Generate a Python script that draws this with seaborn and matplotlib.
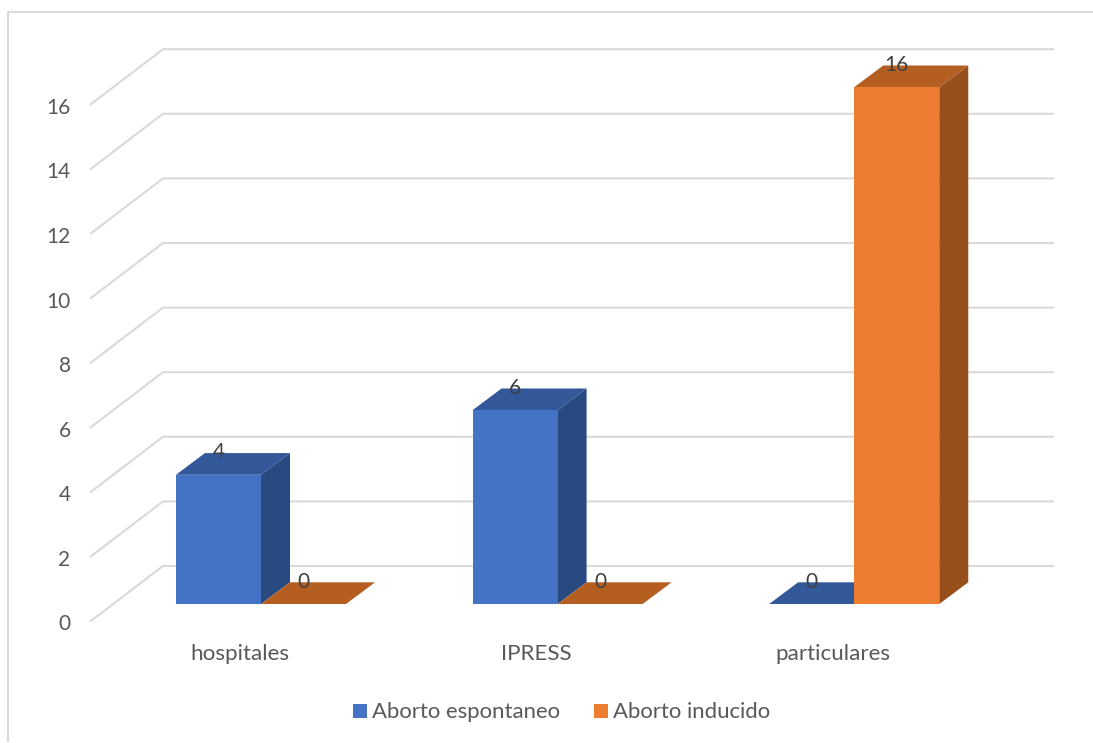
import matplotlib
matplotlib.use("Agg")
import matplotlib.pyplot as plt
import pandas as pd
import seaborn as sns
from matplotlib.lines import Line2D
from matplotlib.patches import Patch, Polygon
from matplotlib.transforms import ScaledTranslation

# Counts per facility type and abortion type
categories = ["hospitales", "IPRESS", "particulares"]
series_names = ["Aborto espontaneo", "Aborto inducido"]
espontaneo = [4, 6, 0]
inducido = [0, 0, 16]
y_ticks = [0, 2, 4, 6, 8, 10, 12, 14, 16]

front_colors = ["#4472C4", "#ED7D31"]
side_colors = ["#294A80", "#974F1B"]
top_colors = ["#335899", "#B55E22"]
GRID = "#D9D9D9"
TEXT = "#595959"
LABEL = "#404040"

W, H, DPI = 1093, 743, 100
# Pixel layout of the plotting plane
AX_LEFT, AX_RIGHT, AX_BASE, AX_TOP = 90, 1054, 604, 30
CAT0, CAT_STEP, PX_PER_UNIT = 261.0, 296.6, 32.3

sns.set_theme(style="white")
plt.rcParams["font.family"] = ["Lato", "DejaVu Sans"]
FS = 16.1
FS_LEGEND = 15.9
FS_NUM = 15.0

df = pd.DataFrame({
    "categoria": categories * 2,
    "tipo": [series_names[0]] * 3 + [series_names[1]] * 3,
    "casos": espontaneo + inducido,
})

fig = plt.figure(figsize=(W / DPI, H / DPI), dpi=DPI, facecolor="white")
ax = fig.add_axes([AX_LEFT / W, 1 - AX_BASE / H, (AX_RIGHT - AX_LEFT) / W, (AX_BASE - AX_TOP) / H])

sns.barplot(
    data=df, x="categoria", y="casos", hue="tipo", order=categories, hue_order=series_names,
    palette=dict(zip(series_names, front_colors)), width=0.5735, gap=0, saturation=1,
    linewidth=0, legend=False, ax=ax, zorder=3,
)

ax.set_xlim((AX_LEFT - CAT0) / CAT_STEP, (AX_RIGHT - CAT0) / CAT_STEP)
ax.set_ylim(0, (AX_BASE - AX_TOP) / PX_PER_UNIT)
ax.set_xlabel("")
ax.set_ylabel("")
for spine in ax.spines.values():
    spine.set_visible(False)
ax.patch.set_alpha(0)


def xu(px):
    return px / CAT_STEP


def yu(px):
    return px / PX_PER_UNIT


# Wall gridlines: slanted on the side wall, flat on the back wall
for v in y_ticks:
    ax.plot(
        [ax.get_xlim()[0], ax.get_xlim()[0] + xu(73), ax.get_xlim()[1]],
        [v - yu(17.7), v + yu(38), v + yu(38)],
        color=GRID, lw=1.5, clip_on=False, zorder=1, solid_joinstyle="miter", solid_capstyle="butt",
    )

# Extruded faces and value labels for each bar
depth_x, depth_y = xu(29), yu(21.7)
for s, container in enumerate(ax.containers):
    for bar in container:
        l, r, h = bar.get_x(), bar.get_x() + bar.get_width(), bar.get_height()
        ax.add_patch(Polygon(
            [(r, 0), (r + depth_x, depth_y), (r + depth_x, h + depth_y), (r, h)],
            closed=True, fc=side_colors[s], ec="none", clip_on=False, zorder=2,
        ))
        ax.add_patch(Polygon(
            [(l, h), (r, h), (r + depth_x, h + depth_y), (l + depth_x, h + depth_y)],
            closed=True, fc=top_colors[s], ec="none", clip_on=False, zorder=2.5,
        ))
        ax.annotate(
            f"{h:.0f}", xy=((l + r) / 2, h), xytext=(0, 22.5 * 72 / DPI), textcoords="offset points",
            ha="center", va="center", color=LABEL, fontsize=FS_NUM, zorder=6, annotation_clip=False,
        )

# Axis labels sit off the front edge of the floor
ax.set_yticks(y_ticks)
ax.set_yticklabels([str(v) for v in y_ticks])
ax.set_xticks(range(len(categories)))
ax.set_xticklabels(categories)
ax.tick_params(axis="y", length=0, pad=19.5 * 72 / DPI, labelsize=FS_NUM, labelcolor=TEXT)
ax.tick_params(axis="x", length=0, pad=40 * 72 / DPI, labelsize=FS, labelcolor=TEXT)
for lab in ax.get_yticklabels():
    lab.set_transform(lab.get_transform() + ScaledTranslation(0, -18.5 / DPI, fig.dpi_scale_trans))
for lab in ax.get_xticklabels():
    lab.set_transform(lab.get_transform() + ScaledTranslation(-21 / DPI, 0, fig.dpi_scale_trans))

handles = [Patch(fc=c, ec="none") for c in front_colors]
ax.legend(
    handles, series_names, loc="center", bbox_to_anchor=(561.5 / W, 1 - 712.5 / H),
    bbox_transform=fig.transFigure, ncol=2, frameon=False, fontsize=FS_LEGEND, labelcolor=TEXT,
    handlelength=0.63, handleheight=0.63, handletextpad=0.225, columnspacing=1.53,
    borderpad=0, borderaxespad=0,
)

# Chart-area border, open towards the right and bottom edges
fig.add_artist(Line2D([7.5 / W, 7.5 / W, 1], [1 - 741 / H, 1 - 12 / H, 1 - 12 / H],
                      transform=fig.transFigure, color=GRID, lw=1.5))

fig.savefig("out.png", dpi=DPI)
